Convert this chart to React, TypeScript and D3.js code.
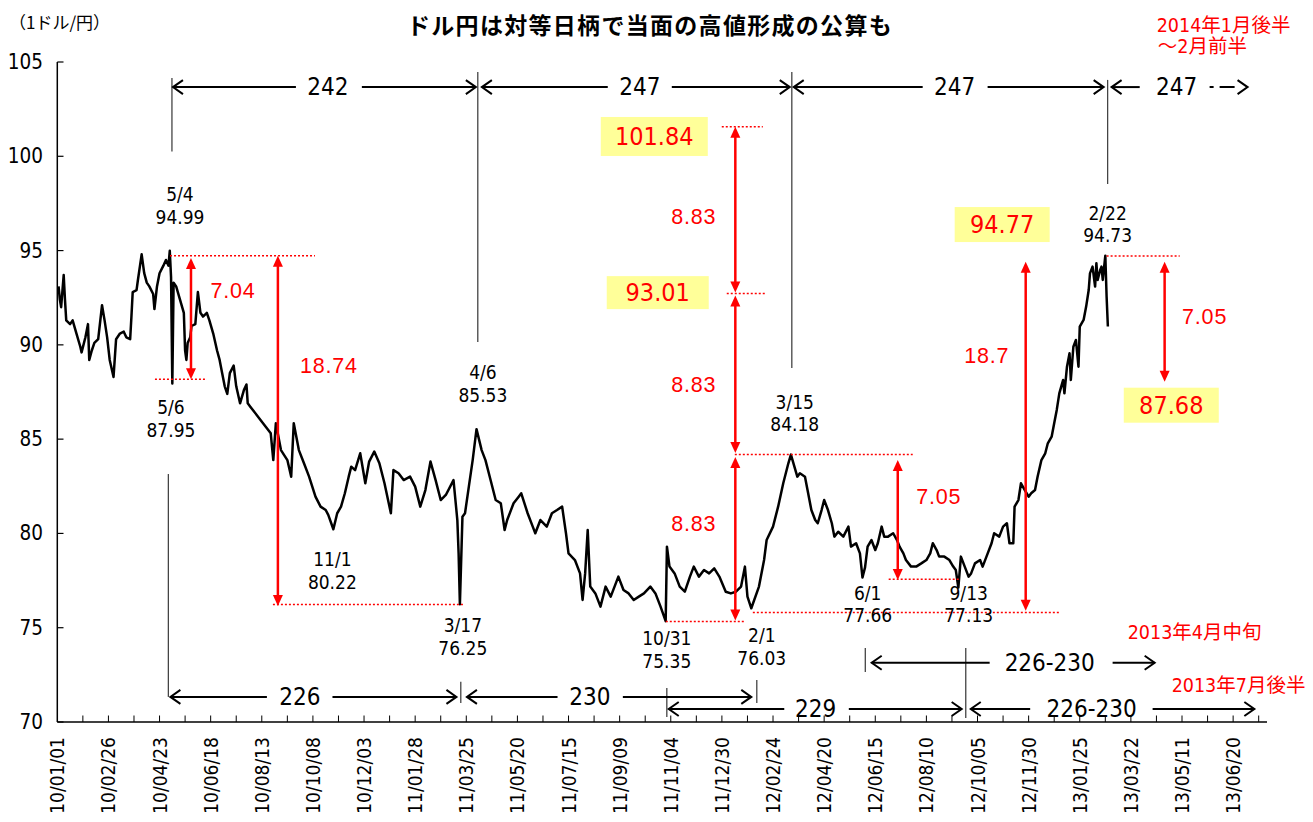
import React from 'react';
import * as d3 from 'd3';

// ---- data: trading-day index (weekdays from 2010-01-01) and USD/JPY close ----
const dayIndex = [
  1, 2, 3, 5, 6, 7, 10, 12, 15, 18, 19, 22, 24, 25, 27, 29, 32, 35, 37, 39, 41, 44, 46, 49, 52, 54, 57, 58, 59, 62, 63, 66, 68, 70, 72, 75, 76, 78, 80, 83, 85, 87, 88, 89, 90, 91, 93, 96, 99, 100, 101, 102, 104, 105, 108, 110, 112, 114, 117, 119, 122, 125, 127, 129, 131, 133, 135, 138, 140, 143, 146, 148, 149,
  151, 159, 167, 169, 171, 175, 180, 183, 185, 189, 193, 197, 202, 206, 210, 212, 216, 219, 222, 225, 228, 230, 233, 237, 241, 244, 248, 252, 256, 261, 263, 267, 271, 276, 280, 284, 288, 292, 296, 300, 304, 310, 313, 314, 315, 317, 319, 322, 325, 328, 332, 335, 339, 343, 347, 350, 352, 357, 361, 363, 368, 372, 374, 378, 383, 387, 391, 395, 398, 400, 405, 409, 411, 413, 415, 417, 421, 425, 429, 433, 439, 443, 447, 451, 455, 459, 464, 468, 472, 476, 477, 479, 483, 487, 491, 495, 498, 502, 506, 510, 514, 518, 523, 527, 531, 535, 538, 540, 543, 549, 553, 555, 560, 564, 568, 572, 574, 579,
  581, 585, 587, 590, 593, 595, 598, 600, 603, 606, 608, 611, 615, 619, 621, 625, 628, 630, 632, 634, 637, 640, 642, 645, 647, 650, 654, 657, 659, 662, 664, 668, 672, 676, 680, 683, 685, 688, 690, 694, 698, 701, 703, 705, 707, 710, 713, 715, 718, 722, 724, 727, 731, 733, 737, 740, 743, 745, 748, 749, 752, 754, 757, 760, 762, 765, 767, 770, 773, 775, 778, 780,
  782, 784, 787, 788, 790, 792, 793, 795, 797, 799, 800, 803, 805, 807, 808, 810, 812, 813, 814, 816, 817, 818, 820, 821, 822,
];
const usdjpy = [
  93.1, 92.4, 92.0, 93.7, 92.4, 91.3, 91.1, 91.3, 90.6, 89.9, 89.6, 90.4, 91.1, 89.2, 89.7, 90.1, 90.3, 92.1, 91.3, 90.4, 89.2, 88.3, 90.3, 90.6, 90.7, 90.4, 90.3, 91.5, 92.8, 92.9, 93.4, 94.8, 93.8, 93.3, 93.1, 92.7, 91.9, 93.1, 93.8, 94.2, 94.5, 94.2, 94.99, 93.6, 87.95, 93.3, 93.1, 92.4, 91.7, 89.7, 89.2, 90.1, 90.4, 91.0, 91.1, 92.8, 91.7, 91.5, 91.7, 91.3, 90.6, 89.7, 89.2, 88.5, 87.8, 87.4, 88.5, 88.9, 87.8, 86.9, 87.6, 87.9, 86.9,
  86.72, 86.02, 85.31, 83.89, 85.84, 84.42, 83.89, 83.01, 85.84, 84.42, 83.72, 83.01, 81.95, 81.42, 81.24, 80.98, 80.22, 81.07, 81.42, 82.13, 83.01, 83.54, 83.36, 84.25, 82.66, 83.81, 84.34, 83.72, 82.66, 81.07, 83.36, 83.19, 82.83, 83.01, 82.48, 81.42, 82.3, 83.81, 82.83, 81.77, 82.04, 82.83, 80.71, 78.94, 76.25, 80.89, 81.07, 82.48, 83.89, 85.53, 84.42, 83.89, 82.83, 81.77, 81.6, 80.18, 80.71, 81.6, 81.95, 82.13, 81.07, 80.36, 80.01, 80.71, 80.36, 81.07, 81.24, 81.42, 80.01, 78.94, 78.59, 77.88, 76.47, 77.88, 80.18, 77.18, 76.82, 76.12, 77.18, 76.65, 77.71, 77.0, 76.82, 76.47, 76.65, 76.82, 77.18, 76.82, 76.12, 75.35, 79.3, 78.24, 77.88, 77.18, 76.91, 77.71, 78.24, 77.71, 78.06, 77.88, 78.15, 77.71, 76.91, 76.82, 76.91, 77.18, 78.24, 76.65, 76.03, 77.18, 78.59, 79.65, 80.36, 81.42, 82.66, 83.72, 84.18, 83.01,
  83.19, 83.01, 82.3, 81.24, 80.71, 80.54, 81.24, 81.77, 81.24, 80.54, 79.83, 80.09, 79.83, 80.36, 79.3, 79.48, 78.94, 77.66, 78.2, 79.3, 79.65, 79.12, 79.48, 80.36, 79.83, 79.83, 80.01, 79.65, 79.3, 78.94, 78.59, 78.24, 78.24, 78.41, 78.59, 78.94, 79.48, 79.12, 78.77, 78.77, 78.59, 78.24, 78.06, 77.13, 78.77, 78.24, 77.71, 77.88, 78.41, 78.59, 78.24, 78.77, 79.48, 80.01, 79.83, 80.36, 80.54, 79.48, 79.48, 81.42, 81.77, 82.66, 82.3, 81.95, 82.13, 82.3, 83.01, 83.89, 84.25, 84.78, 85.13, 85.84,
  86.55, 87.43, 88.14, 87.43, 88.84, 89.55, 88.14, 89.9, 90.26, 88.84, 90.97, 91.32, 92.03, 92.91, 93.79, 94.15, 93.09, 94.33, 93.44, 93.97, 94.15, 93.44, 94.73, 92.56, 90.97,
];

const xTickLabels = [
  '10/01/01', '10/02/26', '10/04/23', '10/06/18', '10/08/13', '10/10/08', '10/12/03', '11/01/28',
  '11/03/25', '11/05/20', '11/07/15', '11/09/09', '11/11/04', '11/12/30', '12/02/24', '12/04/20',
  '12/06/15', '12/08/10', '12/10/05', '12/11/30', '13/01/25', '13/03/22', '13/05/11', '13/06/20',
];
const yTicks = [70, 75, 80, 85, 90, 95, 100, 105];

// ---- annotations (in data units: day index, yen value) ----
const spanArrows = [
  { x1: 90.5, x2: 327.5, v: 103.67, label: '242', lx: 211.7, g1: 186.7, g2: 238.3 },
  { x1: 332.2, x2: 573.1, v: 103.67, label: '247', lx: 455.8, g1: 430.7, g2: 480.8 },
  { x1: 576.2, x2: 818.7, v: 103.67, label: '247', lx: 702.1, g1: 677.1, g2: 727.9 },
  { x1: 88.5, x2: 312.3, v: 71.33, label: '226', lx: 189.8, g1: 164, g2: 215.3 },
  { x1: 320.5, x2: 543, v: 71.33, label: '230', lx: 416.7, g1: 391.4, g2: 442.5 },
  { x1: 478.4, x2: 707.6, v: 70.69, label: '229', lx: 593.4, g1: 568.8, g2: 619.3 },
  { x1: 637.2, x2: 858.6, v: 73.14, label: '226-230', lx: 776.5, g1: 729.5, g2: 825.7 },
  { x1: 714.7, x2: 936.6, v: 70.69, label: '226-230', lx: 809.3, g1: 761.2, g2: 857 },
];
const dashedArrow = { x1: 824.9, x2: 931.3, v: 103.67, label: '247', lx: 875.8, g1: 846.9, g2: 901.6 };

const markerLines = [
  [89.7, 104.15, 100.25], [329, 104.47, 90.15], [574.7, 104.47, 88.77], [821.8, 104.05, 98.53],
  [86.9, 83.15, 71.33], [315.7, 72.14, 71.01], [547.3, 72.23, 71.01], [476.9, 71.8, 70.27],
  [632.2, 73.92, 72.65], [710.8, 73.92, 70.21],
];

const redArrows = [
  [104.6, 94.61, 88.17], [172.6, 94.73, 76.15],
  [530.5, 101.57, 92.78], [530.5, 92.62, 84.27], [530.5, 84.05, 75.38],
  [657.6, 83.89, 77.53], [757.7, 94.41, 75.9], [866.4, 94.41, 88.05],
];
const redDotted = [
  [94.73, 88.2, 201.6], [88.17, 76.4, 117.1], [76.23, 168.7, 318.9], [101.57, 519.9, 552],
  [92.73, 523.8, 555.1], [84.19, 530.1, 669.3], [75.33, 476.1, 537.9], [77.57, 650.5, 706],
  [75.81, 544.2, 784.3], [94.71, 821, 878.2],
];
const redLabels = [
  { i: 137.4, v: 92.86, t: '7.04' }, { i: 212.5, v: 88.88, t: '18.74' },
  { i: 498, v: 96.8, t: '8.83' }, { i: 498, v: 87.87, t: '8.83' }, { i: 498, v: 80.5, t: '8.83' },
  { i: 689.6, v: 81.93, t: '7.05' }, { i: 727.2, v: 89.41, t: '18.7' }, { i: 897.7, v: 91.48, t: '7.05' },
];
const targetBoxes = [
  { i: 467.1, v: 101.05, t: '101.84', w: 107, h: 39 },
  { i: 469.8, v: 92.77, t: '93.01', w: 102, h: 33 },
  { i: 739.3, v: 96.38, t: '94.77', w: 95, h: 35 },
  { i: 871.6, v: 86.8, t: '87.68', w: 95, h: 35 },
];
const pointLabels = [
  { i: 96, v: 98.0, a: '5/4', b: '94.99' },
  { i: 88.9, v: 86.7, a: '5/6', b: '87.95' },
  { i: 215.2, v: 78.64, a: '11/1', b: '80.22' },
  { i: 333, v: 88.56, a: '4/6', b: '85.53' },
  { i: 317.3, v: 75.14, a: '3/17', b: '76.25' },
  { i: 476.9, v: 74.45, a: '10/31', b: '75.35' },
  { i: 551.2, v: 74.6, a: '2/1', b: '76.03' },
  { i: 577, v: 86.99, a: '3/15', b: '84.18' },
  { i: 634.1, v: 76.86, a: '6/1', b: '77.66' },
  { i: 713.1, v: 76.86, a: '9/13', b: '77.13' },
  { i: 821.8, v: 97.01, a: '2/22', b: '94.73' },
];
const redNotes = [
  { i: 860.2, v: 106.91, t: '2014年1月後半' },
  { i: 861, v: 105.8, t: '～2月前半' },
  { i: 837.5, v: 74.72, t: '2013年4月中旬' },
  { i: 871.9, v: 71.96, t: '2013年7月後半' },
];

const W = 1313;
const H = 822;
const NARROW = "'DejaVu Sans Condensed', 'Liberation Sans Narrow', 'DejaVu Sans', 'Noto Sans CJK JP', sans-serif";
const CJK = "'Noto Sans CJK JP', sans-serif";
const ARIAL = "'Liberation Sans', Arial, sans-serif";
const RED = '#ff0000';

export default function App() {
  const x = d3.scaleLinear().domain([0, 946.5]).range([57.3, 1267]);
  const y = d3.scaleLinear().domain([70, 105]).range([722, 62]);
  const pts: [number, number][] = dayIndex.map((d, k) => [d, usdjpy[k]]);
  const line = d3.line<[number, number]>().x((p) => x(p[0])).y((p) => y(p[1]));
  const minorTicks = d3.range(20, 941, 20);

  const chevron = (tx: number, ty: number, dir: number, key: string) => (
    <path key={key} d={`M${tx + dir * 10},${ty - 7}L${tx},${ty}L${tx + dir * 10},${ty + 7}`}
      fill="none" stroke="#000" strokeWidth={2} />
  );

  return (
    <svg width={W} height={H} style={{ position: 'absolute', left: 0, top: 0, background: '#fff' }}>
      <rect x={0} y={0} width={W} height={H} fill="#fff" />
      {/* title */}
      <text x={650} y={24} textAnchor="middle" dominantBaseline="central" fontFamily={CJK}
        fontWeight="bold" fontSize={23} letterSpacing={1.3}>ドル円は対等日柄で当面の高値形成の公算も</text>
      <text x={9} y={21} dominantBaseline="central" fontFamily={CJK} fontSize={17}>（1ドル/円）</text>

      {/* axes */}
      <line x1={57.3} x2={57.3} y1={y(105)} y2={y(70)} stroke="#000" strokeWidth={1.5} />
      <line x1={57.3} x2={1267} y1={y(70)} y2={y(70)} stroke="#000" strokeWidth={1.5} />
      {yTicks.map((t) => (
        <g key={'yt' + t}>
          <line x1={57.3} x2={63.5} y1={y(t)} y2={y(t)} stroke="#000" strokeWidth={1.2} />
          <text x={43} y={y(t)} textAnchor="end" dominantBaseline="central" fontFamily={NARROW}
            fontStretch="condensed" fontSize={20.5}>{t}</text>
        </g>
      ))}
      {minorTicks.map((t) => (
        <line key={'xt' + t} x1={x(t)} x2={x(t)} y1={722} y2={715.5} stroke="#000" strokeWidth={1} />
      ))}
      {xTickLabels.map((lab, k) => (
        <text key={'xl' + k} transform={`translate(${x(k * 40)},737) rotate(-90)`} textAnchor="end"
          dominantBaseline="central" fontFamily={NARROW} fontStretch="condensed" fontSize={19}>{lab}</text>
      ))}

      {/* price line */}
      <path d={line(pts) || ''} fill="none" stroke="#000" strokeWidth={2.5} strokeLinejoin="round" />

      {/* marker lines */}
      {markerLines.map((m, k) => (
        <line key={'ml' + k} x1={x(m[0])} x2={x(m[0])} y1={y(m[1])} y2={y(m[2])} stroke="#444" strokeWidth={1.3} />
      ))}

      {/* period arrows */}
      {spanArrows.map((a, k) => {
        const yy = y(a.v);
        return (
          <g key={'sa' + k}>
            <line x1={x(a.x1)} x2={x(a.g1)} y1={yy} y2={yy} stroke="#000" strokeWidth={2} />
            <line x1={x(a.g2)} x2={x(a.x2)} y1={yy} y2={yy} stroke="#000" strokeWidth={2} />
            {chevron(x(a.x1), yy, 1, 'l')}
            {chevron(x(a.x2), yy, -1, 'r')}
            <text x={x(a.lx)} y={yy} textAnchor="middle" dominantBaseline="central" fontFamily={NARROW}
              fontStretch="condensed" fontSize={24}>{a.label}</text>
          </g>
        );
      })}
      {(() => {
        const a = dashedArrow;
        const yy = y(a.v);
        return (
          <g>
            <line x1={x(a.x1)} x2={x(a.g1)} y1={yy} y2={yy} stroke="#000" strokeWidth={2} />
            <line x1={x(a.g2)} x2={x(a.x2)} y1={yy} y2={yy} stroke="#000" strokeWidth={2}
              strokeDasharray="4 6 15 40" />
            {chevron(x(a.x1), yy, 1, 'l')}
            {chevron(x(a.x2), yy, -1, 'r')}
            <text x={x(a.lx)} y={yy} textAnchor="middle" dominantBaseline="central" fontFamily={NARROW}
              fontStretch="condensed" fontSize={24}>{a.label}</text>
          </g>
        );
      })()}

      {/* red dotted levels */}
      {redDotted.map((d, k) => (
        <line key={'rd' + k} x1={x(d[1])} x2={x(d[2])} y1={y(d[0])} y2={y(d[0])} stroke={RED}
          strokeWidth={1.5} strokeDasharray="2 2" />
      ))}

      {/* red double arrows */}
      {redArrows.map((r, k) => {
        const xx = x(r[0]);
        const ya = y(r[1]);
        const yb = y(r[2]);
        return (
          <g key={'ra' + k}>
            <line x1={xx} x2={xx} y1={ya + 8} y2={yb - 8} stroke={RED} strokeWidth={2.5} />
            <path d={`M${xx},${ya}L${xx - 5},${ya + 11}L${xx + 5},${ya + 11}Z`} fill={RED} />
            <path d={`M${xx},${yb}L${xx - 5},${yb - 11}L${xx + 5},${yb - 11}Z`} fill={RED} />
          </g>
        );
      })}
      {redLabels.map((l, k) => (
        <text key={'rl' + k} x={x(l.i)} y={y(l.v)} textAnchor="middle" dominantBaseline="central"
          fontFamily={ARIAL} fontSize={21.5} letterSpacing={0.8} fill={RED}>{l.t}</text>
      ))}

      {/* target boxes */}
      {targetBoxes.map((b, k) => (
        <g key={'tb' + k}>
          <rect x={x(b.i) - b.w / 2} y={y(b.v) - b.h / 2} width={b.w} height={b.h} fill="#ffff99" />
          <text x={x(b.i)} y={y(b.v)} textAnchor="middle" dominantBaseline="central" fontFamily={NARROW}
            fontStretch="condensed" fontSize={25} fill={RED}>{b.t}</text>
        </g>
      ))}

      {/* point labels */}
      {pointLabels.map((p, k) => (
        <g key={'pl' + k}>
          <text x={x(p.i)} y={y(p.v)} textAnchor="middle" dominantBaseline="central" fontFamily={NARROW}
            fontStretch="condensed" fontSize={19}>{p.a}</text>
          <text x={x(p.i)} y={y(p.v) + 22.5} textAnchor="middle" dominantBaseline="central" fontFamily={NARROW}
            fontStretch="condensed" fontSize={19}>{p.b}</text>
        </g>
      ))}

      {/* red notes */}
      {redNotes.map((n, k) => (
        <text key={'rn' + k} x={x(n.i)} y={y(n.v)} dominantBaseline="central" fontFamily={NARROW}
          fontStretch="condensed" fontSize={19.5} fill={RED}>{n.t}</text>
      ))}
    </svg>
  );
}
